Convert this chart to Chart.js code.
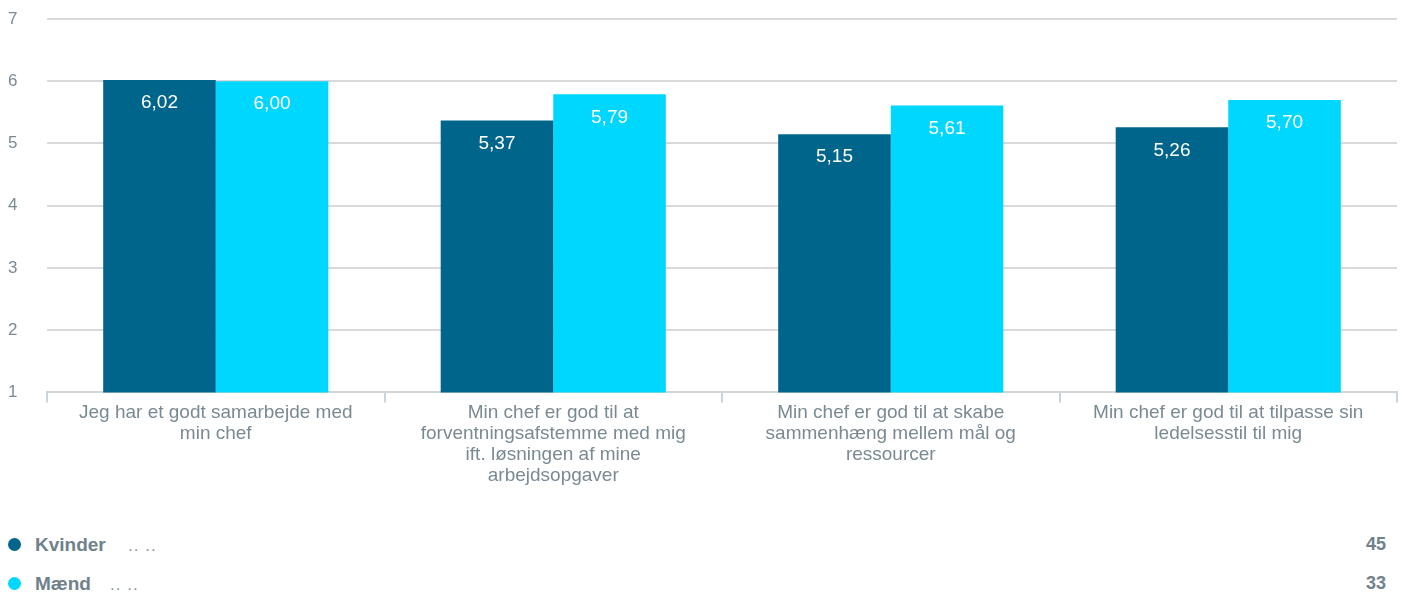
<!DOCTYPE html>
<html><head><meta charset="utf-8">
<script src="https://cdn.jsdelivr.net/npm/chart.js@4/dist/chart.umd.min.js"></script>
<style>
html,body{margin:0;padding:0;background:#fff;font-family:"Liberation Sans",Arial,sans-serif;}
#wrap{position:relative;width:1404px;height:596px;overflow:hidden;}
#cw{position:absolute;left:0;top:0;width:1404px;height:486px;}
.leg{position:absolute;left:0;width:1404px;height:22px;color:#6f818b;font-size:19px;}
.dot{position:absolute;left:8px;top:4px;width:13px;height:13px;border-radius:50%;}
.name{position:absolute;left:35px;top:0px;font-weight:bold;}
.dots{position:absolute;top:2px;color:#8a979e;font-size:17px;letter-spacing:1px;}
.n{position:absolute;right:18px;top:0px;font-weight:bold;font-size:18px;}
</style></head>
<body><div id="wrap">
<div id="cw"><canvas id="c"></canvas></div>
<div id="legend"></div>
</div>
<script>
const categories = [
  ["Jeg har et godt samarbejde med","min chef"],
  ["Min chef er god til at","forventningsafstemme med mig","ift. løsningen af mine","arbejdsopgaver"],
  ["Min chef er god til at skabe","sammenhæng mellem mål og","ressourcer"],
  ["Min chef er god til at tilpasse sin","ledelsesstil til mig"]
];
const seriesNames = ["Kvinder","Mænd"];
const kvinder = [6.02, 5.37, 5.15, 5.26];
const maend = [6.00, 5.79, 5.61, 5.70];
const counts = [45, 33];
const colors = ["#00658b","#00d7ff"];
const yTicks = [1,2,3,4,5,6,7];

const legend = document.getElementById('legend');
const legTops = [534, 573];
seriesNames.forEach((s,i)=>{
  const d = document.createElement('div');
  d.className='leg'; d.style.top = legTops[i]+'px';
  d.innerHTML = '<div class="dot" style="background:'+colors[i]+'"></div><span class="name">'+s+'</span>'+
    '<span class="dots" style="left:'+(i===0?128:110)+'px">.. ..</span><span class="n">'+counts[i]+'</span>';
  legend.appendChild(d);
});

const labelPlugin = {
  id:'barLabels',
  afterDatasetsDraw(chart){
    const ctx = chart.ctx;
    ctx.save();
    ctx.fillStyle = '#ffffff';
    ctx.font = '19px "Liberation Sans", Arial, sans-serif';
    ctx.textAlign = 'center';
    ctx.textBaseline = 'middle';
    chart.data.datasets.forEach((ds,di)=>{
      chart.getDatasetMeta(di).data.forEach((bar,i)=>{
        const v = ds.data[i];
        ctx.fillText(v.toFixed(2).replace('.',','), bar.x, bar.y + 23);
      });
    });
    ctx.restore();
  }
};

new Chart(document.getElementById('c'), {
  type:'bar',
  data:{
    labels: categories,
    datasets:[
      {label:seriesNames[0], data:kvinder, backgroundColor:colors[0], categoryPercentage:0.667, barPercentage:1.0, borderWidth:0},
      {label:seriesNames[1], data:maend, backgroundColor:colors[1], categoryPercentage:0.667, barPercentage:1.0, borderWidth:0}
    ]
  },
  options:{
    responsive:true, maintainAspectRatio:false, animation:false,
    layout:{padding:{left:8, right:7, top:19, bottom:0}},
    plugins:{legend:{display:false}, tooltip:{enabled:false}},
    scales:{
      y:{
        min:1, max:7,
        afterFit(s){ s.width = 39; },
        ticks:{stepSize:1, color:'#7a8a93', font:{size:17, family:'"Liberation Sans", Arial, sans-serif'}, crossAlign:'far', padding:0},
        grid:{color:'#d9d9d9', lineWidth:2, drawTicks:false},
        border:{display:false},
        afterBuildTicks(s){ s.ticks = yTicks.map(v=>({value:v})); }
      },
      x:{
        offset:true,
        grid:{display:true, drawOnChartArea:false, drawTicks:true, tickLength:10, color:'#c9d5de', lineWidth:2, offset:true},
        border:{display:true, color:'#d3d6d9', width:2},
        ticks:{color:'#7a8a93', font:{size:19, family:'"Liberation Sans", Arial, sans-serif', lineHeight:1.1}, maxRotation:0, autoSkip:false, padding:0}
      }
    }
  },
  plugins:[labelPlugin]
});
</script>
</body></html>
